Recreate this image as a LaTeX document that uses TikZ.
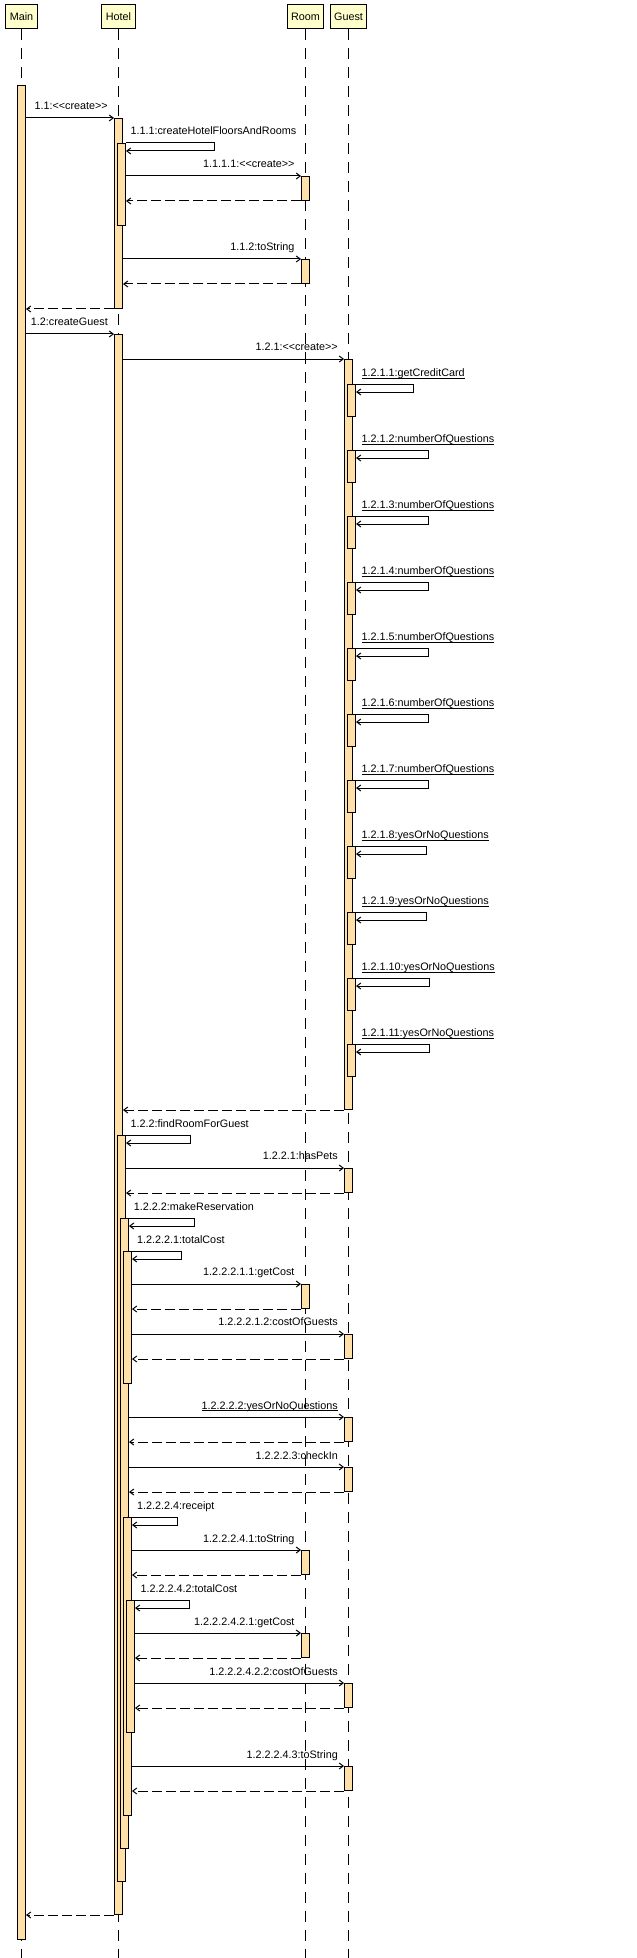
\documentclass[tikz,border=0pt]{standalone}
\usepackage{fontspec}
\setmainfont{Liberation Sans}
\usepackage{tikz}
\usetikzlibrary{arrows.meta}
\definecolor{headfill}{RGB}{255,255,204}
\definecolor{barfill}{RGB}{255,224,168}
\newcommand{\ulabel}[1]{\setbox0=\hbox{#1}\rlap{\rule[-1.6pt]{\wd0}{0.75pt}}\box0}
\newcommand{\stereo}[1]{<{}<#1>{}>}
\tikzset{
  objhead/.style={ draw, fill=headfill, minimum height=18pt, inner xsep=3pt, font=\fontsize{8.1}{9}\selectfont }
}
\tikzset{
  actbar/.style={ draw, fill=barfill, minimum width=6pt, minimum height=#1*0.75pt, inner sep=0pt, anchor=north }
}
\tikzset{
  lifeline/.style={ dash pattern=on 8.25pt off 6pt }
}
\tikzset{
  call/.style={ -{Straight Barb[length=3pt,width=4.5pt]} }
}
\tikzset{
  reply/.style={ call, dash pattern=on 7.5pt off 3pt }
}
\tikzset{
  msglbl/.style={ inner sep=0pt, font=\fontsize{8.1}{9}\selectfont }
}

\begin{document}
\begin{tikzpicture}[x=0.75pt, y=-0.75pt, line width=0.75pt]
      \useasboundingbox (0,0) rectangle (636,1958);
      \coordinate (bottom) at (0,1958);

      % lifelines
      \node[objhead] (main) at (21.5,17) {Main};
      \node[objhead] (hotel) at (118.5,17) {Hotel};
      \node[objhead] (room) at (305.5,17) {Room};
      \node[objhead] (guest) at (348.5,17) {Guest};
      \draw[lifeline] (main.south) -- (main.south |- bottom);
      \draw[lifeline] (hotel.south) -- (hotel.south |- bottom);
      \draw[lifeline] (room.south) -- (room.south |- bottom);
      \draw[lifeline] (guest.south) -- (guest.south |- bottom);

      \node[actbar=1854] (mainA) at (21.5,85) {};

      % 1.1 create hotel
      \node[actbar=190] (hotelA) at (118.5,118) {};
      \draw[call] (mainA.east |- hotelA.north) -- (hotelA.north west);
      \node[msglbl, anchor=base east] (l11) at (108.3,109.5) {1.1:\stereo{create}};

      \node[actbar=82] (hotelAA) at (121.5,143) {};
      \draw[call] (hotelAA.north east) -- ++(88,0) -- ++(0,8) -- ++(-88,0);
      \node[msglbl, anchor=base west] (l111) at (130,135) {1.1.1:createHotelFloorsAndRooms};

      \node[actbar=24] (roomA) at (305.5,176) {};
      \draw[call] (hotelAA.east |- roomA.north) -- (roomA.north west);
      \draw[reply] (roomA.south west) -- (hotelAA.east |- roomA.south);
      \node[msglbl, anchor=base east] (l1111) at (295,167.5) {1.1.1.1:\stereo{create}};

      \node[actbar=24] (roomB) at (305.5,259) {};
      \draw[call] (hotelA.east |- roomB.north) -- (roomB.north west);
      \draw[reply] (roomB.south west) -- (hotelA.east |- roomB.south);
      \node[msglbl, anchor=base east] (l112) at (295,250.5) {1.1.2:toString};

      \draw[reply] (hotelA.south west) -- (mainA.east |- hotelA.south);

      % 1.2 create guest
      \node[actbar=1580] (hotelB) at (118.5,334) {};
      \draw[call] (mainA.east |- hotelB.north) -- (hotelB.north west);
      \node[msglbl, anchor=base east] (l12) at (108.3,325.5) {1.2:createGuest};

      \node[actbar=750] (guestA) at (348.5,359) {};
      \draw[call] (hotelB.east |- guestA.north) -- (guestA.north west);
      \node[msglbl, anchor=base east] (l121) at (338.3,350.5) {1.2.1:\stereo{create}};

      \node[actbar=32] (guestL1) at (351.5,384) {};
      \draw[call] (guestL1.north east) -- ++(57,0) -- ++(0,8) -- ++(-57,0);
      \node[msglbl, anchor=base west] (l1211) at (361,376.5) {\ulabel{1.2.1.1:getCreditCard}};

      \node[actbar=32] (guestL2) at (351.5,450) {};
      \draw[call] (guestL2.north east) -- ++(72,0) -- ++(0,8) -- ++(-72,0);
      \node[msglbl, anchor=base west] (l1212) at (361,442.5) {\ulabel{1.2.1.2:numberOfQuestions}};

      \node[actbar=32] (guestL3) at (351.5,516) {};
      \draw[call] (guestL3.north east) -- ++(72,0) -- ++(0,8) -- ++(-72,0);
      \node[msglbl, anchor=base west] (l1213) at (361,508.5) {\ulabel{1.2.1.3:numberOfQuestions}};

      \node[actbar=32] (guestL4) at (351.5,582) {};
      \draw[call] (guestL4.north east) -- ++(72,0) -- ++(0,8) -- ++(-72,0);
      \node[msglbl, anchor=base west] (l1214) at (361,574.5) {\ulabel{1.2.1.4:numberOfQuestions}};

      \node[actbar=32] (guestL5) at (351.5,648) {};
      \draw[call] (guestL5.north east) -- ++(72,0) -- ++(0,8) -- ++(-72,0);
      \node[msglbl, anchor=base west] (l1215) at (361,640.5) {\ulabel{1.2.1.5:numberOfQuestions}};

      \node[actbar=32] (guestL6) at (351.5,714) {};
      \draw[call] (guestL6.north east) -- ++(72,0) -- ++(0,8) -- ++(-72,0);
      \node[msglbl, anchor=base west] (l1216) at (361,706.5) {\ulabel{1.2.1.6:numberOfQuestions}};

      \node[actbar=32] (guestL7) at (351.5,780) {};
      \draw[call] (guestL7.north east) -- ++(72,0) -- ++(0,8) -- ++(-72,0);
      \node[msglbl, anchor=base west] (l1217) at (361,772.5) {\ulabel{1.2.1.7:numberOfQuestions}};

      \node[actbar=32] (guestL8) at (351.5,846) {};
      \draw[call] (guestL8.north east) -- ++(70,0) -- ++(0,8) -- ++(-70,0);
      \node[msglbl, anchor=base west] (l1218) at (361,838.5) {\ulabel{1.2.1.8:yesOrNoQuestions}};

      \node[actbar=32] (guestL9) at (351.5,912) {};
      \draw[call] (guestL9.north east) -- ++(70,0) -- ++(0,8) -- ++(-70,0);
      \node[msglbl, anchor=base west] (l1219) at (361,904.5) {\ulabel{1.2.1.9:yesOrNoQuestions}};

      \node[actbar=32] (guestL10) at (351.5,978) {};
      \draw[call] (guestL10.north east) -- ++(73,0) -- ++(0,8) -- ++(-73,0);
      \node[msglbl, anchor=base west] (l12110) at (361,970.5) {\ulabel{1.2.1.10:yesOrNoQuestions}};

      \node[actbar=32] (guestL11) at (351.5,1044) {};
      \draw[call] (guestL11.north east) -- ++(73,0) -- ++(0,8) -- ++(-73,0);
      \node[msglbl, anchor=base west] (l12111) at (361,1036.5) {\ulabel{1.2.1.11:yesOrNoQuestions}};

      \draw[reply] (guestA.south west) -- (hotelB.east |- guestA.south);

      % 1.2.2 find room
      \node[actbar=746] (hotelBB) at (121.5,1135) {};
      \draw[call] (hotelBB.north east) -- ++(64,0) -- ++(0,8) -- ++(-64,0);
      \node[msglbl, anchor=base west] (l122) at (130,1127) {1.2.2:findRoomForGuest};

      \node[actbar=24] (guestP) at (348.5,1168) {};
      \draw[call] (hotelBB.east |- guestP.north) -- (guestP.north west);
      \draw[reply] (guestP.south west) -- (hotelBB.east |- guestP.south);
      \node[msglbl, anchor=base east] (l1221) at (338.3,1159.5) {1.2.2.1:hasPets};

      \node[actbar=630] (hotelC) at (124.5,1218) {};
      \draw[call] (hotelC.north east) -- ++(65,0) -- ++(0,8) -- ++(-65,0);
      \node[msglbl, anchor=base west] (l1222) at (133.3,1210) {1.2.2.2:makeReservation};

      \node[actbar=132] (hotelD) at (127.5,1251) {};
      \draw[call] (hotelD.north east) -- ++(49,0) -- ++(0,8) -- ++(-49,0);
      \node[msglbl, anchor=base west] (l12221) at (136.5,1243) {1.2.2.2.1:totalCost};

      \node[actbar=24] (roomC) at (305.5,1284) {};
      \draw[call] (hotelD.east |- roomC.north) -- (roomC.north west);
      \draw[reply] (roomC.south west) -- (hotelD.east |- roomC.south);
      \node[msglbl, anchor=base east] (l122211) at (295,1275.5) {1.2.2.2.1.1:getCost};

      \node[actbar=24] (guestC) at (348.5,1334) {};
      \draw[call] (hotelD.east |- guestC.north) -- (guestC.north west);
      \draw[reply] (guestC.south west) -- (hotelD.east |- guestC.south);
      \node[msglbl, anchor=base east] (l122212) at (338.3,1325.5) {1.2.2.2.1.2:costOfGuests};

      \node[actbar=24] (guestY) at (348.5,1417) {};
      \draw[call] (hotelC.east |- guestY.north) -- (guestY.north west);
      \draw[reply] (guestY.south west) -- (hotelC.east |- guestY.south);
      \node[msglbl, anchor=base east] (l12222) at (338.3,1409) {\ulabel{1.2.2.2.2:yesOrNoQuestions}};

      \node[actbar=24] (guestK) at (348.5,1467) {};
      \draw[call] (hotelC.east |- guestK.north) -- (guestK.north west);
      \draw[reply] (guestK.south west) -- (hotelC.east |- guestK.south);
      \node[msglbl, anchor=base east] (l12223) at (338.3,1459) {1.2.2.2.3:checkIn};

      \node[actbar=298] (hotelR) at (127.5,1517) {};
      \draw[call] (hotelR.north east) -- ++(45,0) -- ++(0,8) -- ++(-45,0);
      \node[msglbl, anchor=base west] (l12224) at (136.5,1509) {1.2.2.2.4:receipt};

      \node[actbar=24] (roomT) at (305.5,1550) {};
      \draw[call] (hotelR.east |- roomT.north) -- (roomT.north west);
      \draw[reply] (roomT.south west) -- (hotelR.east |- roomT.south);
      \node[msglbl, anchor=base east] (l122241) at (295,1542) {1.2.2.2.4.1:toString};

      \node[actbar=132] (hotelE) at (130.5,1600) {};
      \draw[call] (hotelE.north east) -- ++(54,0) -- ++(0,8) -- ++(-54,0);
      \node[msglbl, anchor=base west] (l122242) at (140,1592) {1.2.2.2.4.2:totalCost};

      \node[actbar=24] (roomG) at (305.5,1633) {};
      \draw[call] (hotelE.east |- roomG.north) -- (roomG.north west);
      \draw[reply] (roomG.south west) -- (hotelE.east |- roomG.south);
      \node[msglbl, anchor=base east] (l1222421) at (295,1625) {1.2.2.2.4.2.1:getCost};

      \node[actbar=24] (guestG) at (348.5,1683) {};
      \draw[call] (hotelE.east |- guestG.north) -- (guestG.north west);
      \draw[reply] (guestG.south west) -- (hotelE.east |- guestG.south);
      \node[msglbl, anchor=base east] (l1222422) at (338.3,1675) {1.2.2.2.4.2.2:costOfGuests};

      \node[actbar=24] (guestT) at (348.5,1766) {};
      \draw[call] (hotelR.east |- guestT.north) -- (guestT.north west);
      \draw[reply] (guestT.south west) -- (hotelR.east |- guestT.south);
      \node[msglbl, anchor=base east] (l122243) at (338.3,1758) {1.2.2.2.4.3:toString};

      \draw[reply] (hotelB.south west) -- (mainA.east |- hotelB.south);
    \end{tikzpicture}
\end{document}
